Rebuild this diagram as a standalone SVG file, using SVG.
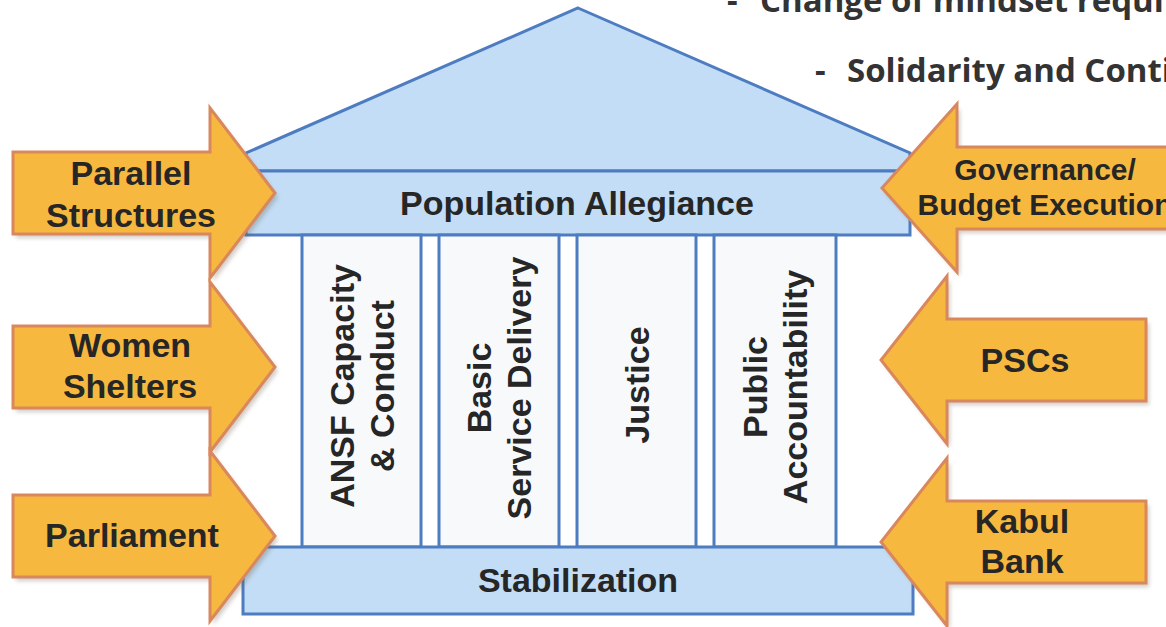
<svg xmlns="http://www.w3.org/2000/svg" width="1166" height="627" viewBox="0 0 1166 627">
<defs>
<style>
.blue{fill:#c2ddf5;stroke:#4d7cc1;stroke-width:3}
.col{fill:#f8f9fb;stroke:#4d7cc1;stroke-width:3}
.arrow{fill:#f6b83f;stroke:#d9875c;stroke-width:3;stroke-linejoin:miter}
.shadow{fill:#6b5a4a;opacity:0.3}
.lbl{font-family:"Liberation Sans",Arial,sans-serif;font-weight:bold;font-size:34px;fill:#262626;text-anchor:middle}
.note{font-family:"Open Sans",sans-serif;font-weight:bold;font-size:33px;fill:#333333}
</style>
<filter id="blur" x="-10%" y="-10%" width="120%" height="120%"><feGaussianBlur stdDeviation="2"/></filter>
<path id="la" d="M-262,-41 H-65 V-85 L0,0 L-65,85 V41 H-262 Z"/>
<path id="ra" d="M265,-41 H66 V-84 L0,0 L66,84 V41 H265 Z"/>
<path id="ga" d="M300,-41 H75 V-84 L0,0 L75,84 V41 H300 Z"/>
</defs>
<rect width="1166" height="627" fill="#ffffff"/>

<g id="notes">
<text class="note" x="727" y="12">-</text>
<text class="note" x="760" y="12">Change of mindset requi</text>
<text class="note" x="815" y="82">-</text>
<text class="note" x="847" y="82">Solidarity and Conti</text>
</g>

<g id="roof">
<polygon class="blue" points="578,8 910,153 910,171 246,171 246,153"/>
</g>

<g id="population-allegiance">
<rect class="blue" x="246" y="171" width="664" height="64"/>
<text class="lbl" x="577" y="215">Population Allegiance</text>
</g>

<g id="pillar-ansf">
<rect class="col" x="302" y="235" width="119" height="312"/>
<g transform="translate(361.5,386) rotate(-90)">
<text class="lbl" x="0" y="-8">ANSF Capacity</text>
<text class="lbl" x="0" y="32">&amp; Conduct</text>
</g>
</g>

<g id="pillar-basic">
<rect class="col" x="439" y="235" width="120" height="312"/>
<g transform="translate(499,388) rotate(-90)">
<text class="lbl" x="0" y="-8">Basic</text>
<text class="lbl" x="0" y="32">Service Delivery</text>
</g>
</g>

<g id="pillar-justice">
<rect class="col" x="577" y="235" width="119" height="312"/>
<g transform="translate(636.5,385) rotate(-90)">
<text class="lbl" x="0" y="12">Justice</text>
</g>
</g>

<g id="pillar-public">
<rect class="col" x="714" y="235" width="122" height="312"/>
<g transform="translate(775,387) rotate(-90)">
<text class="lbl" x="0" y="-8">Public</text>
<text class="lbl" x="0" y="32">Accountability</text>
</g>
</g>

<g id="stabilization">
<rect class="blue" x="243" y="547" width="670" height="67"/>
<text class="lbl" x="578" y="592">Stabilization</text>
</g>

<g id="arrow-parallel-structures">
<use href="#la" class="shadow" filter="url(#blur)" transform="translate(278,197)"/>
<use href="#la" class="arrow" transform="translate(275,193)"/>
<text class="lbl" x="131" y="185">Parallel</text>
<text class="lbl" x="131" y="227">Structures</text>
</g>

<g id="arrow-women-shelters">
<use href="#la" class="shadow" filter="url(#blur)" transform="translate(278,371)"/>
<use href="#la" class="arrow" transform="translate(275,367)"/>
<text class="lbl" x="130" y="357">Women</text>
<text class="lbl" x="130" y="398">Shelters</text>
</g>

<g id="arrow-parliament">
<use href="#la" class="shadow" filter="url(#blur)" transform="translate(278,540)"/>
<use href="#la" class="arrow" transform="translate(275,536)"/>
<text class="lbl" x="132" y="547">Parliament</text>
</g>

<g id="arrow-governance">
<use href="#ga" class="shadow" filter="url(#blur)" transform="translate(885,192)"/>
<use href="#ga" class="arrow" transform="translate(882,188)"/>
<text class="lbl" x="1045" y="180" style="font-size:30px">Governance/</text>
<text class="lbl" x="1045" y="215" style="font-size:30px">Budget Execution</text>
</g>

<g id="arrow-pscs">
<use href="#ra" class="shadow" filter="url(#blur)" transform="translate(884,364)"/>
<use href="#ra" class="arrow" transform="translate(881,360)"/>
<text class="lbl" x="1025" y="372">PSCs</text>
</g>

<g id="arrow-kabul-bank">
<use href="#ra" class="shadow" filter="url(#blur)" transform="translate(884,546)"/>
<use href="#ra" class="arrow" transform="translate(881,542)"/>
<text class="lbl" x="1022" y="533">Kabul</text>
<text class="lbl" x="1022" y="573">Bank</text>
</g>

<g id="connectors"></g>
</svg>
